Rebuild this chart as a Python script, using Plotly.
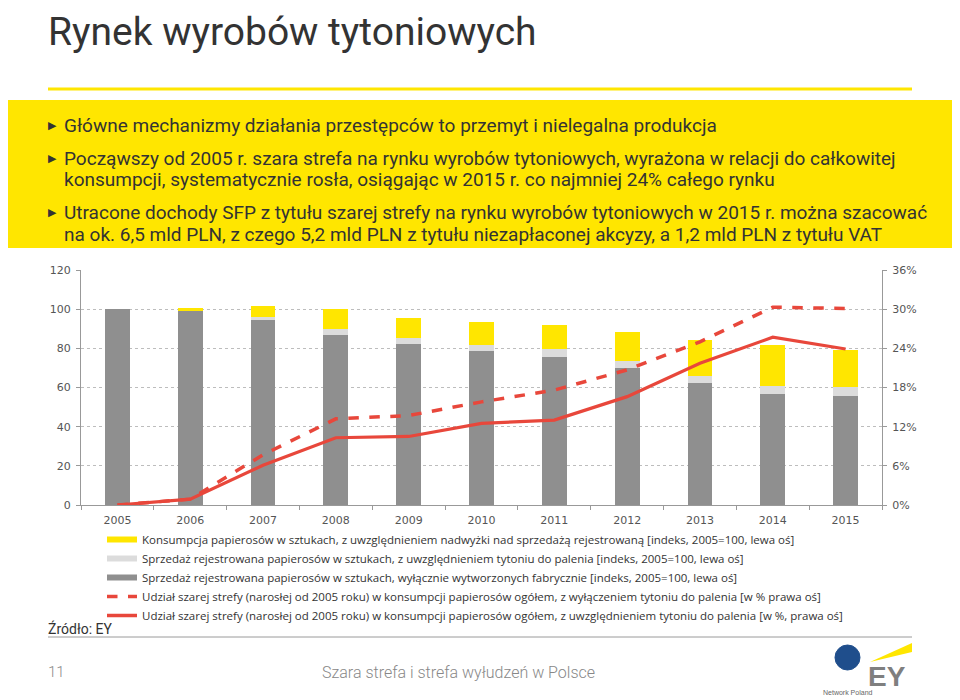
import plotly.graph_objects as go

# --- data ---
years = ["2005", "2006", "2007", "2008", "2009", "2010", "2011", "2012", "2013", "2014", "2015"]
sales_factory = [100, 99.2, 94.6, 87.0, 82.4, 78.8, 75.6, 70.0, 62.5, 56.9, 55.5]
sales_with_tobacco = [0, 0.3, 1.4, 3.0, 2.9, 3.1, 4.2, 3.4, 3.4, 3.7, 4.8]
consumption_surplus = [0, 0.9, 5.6, 10.3, 10.2, 11.7, 11.9, 14.8, 18.4, 21.1, 19.0]
grey_share_excl = [0, 0.9, 7.7, 13.2, 13.7, 15.8, 17.6, 20.7, 25.0, 30.3, 30.1]
grey_share_incl = [0, 0.9, 6.1, 10.3, 10.5, 12.5, 13.0, 16.6, 21.7, 25.7, 23.9]

legend_labels = [
    "Konsumpcja papierosów w sztukach, z uwzględnieniem nadwyżki nad sprzedażą rejestrowaną [indeks, 2005=100, lewa oś]",
    "Sprzedaż rejestrowana papierosów w sztukach, z uwzględnieniem tytoniu do palenia [indeks, 2005=100, lewa oś]",
    "Sprzedaż rejestrowana papierosów w sztukach, wyłącznie wytworzonych fabrycznie [indeks, 2005=100, lewa oś]",
    "Udział szarej strefy (narosłej od 2005 roku) w konsumpcji papierosów ogółem, z wyłączeniem tytoniu do palenia [w % prawa oś]",
    "Udział szarej strefy (narosłej od 2005 roku) w konsumpcji papierosów ogółem, z uwzględnieniem tytoniu do palenia [w %, prawa oś]",
]

title = "Rynek wyrobów tytoniowych"
bullets = [
    ["Główne mechanizmy działania przestępców to przemyt i nielegalna produkcja"],
    ["Począwszy od 2005 r. szara strefa na rynku wyrobów tytoniowych, wyrażona w relacji do całkowitej",
     "konsumpcji, systematycznie rosła, osiągając w 2015 r. co najmniej 24% całego rynku"],
    ["Utracone dochody SFP z tytułu szarej strefy na rynku wyrobów tytoniowych w 2015 r. można szacować",
     "na ok. 6,5 mld PLN, z czego 5,2 mld PLN z tytułu niezapłaconej akcyzy, a 1,2 mld PLN z tytułu VAT"],
]

YELLOW = "#FFE600"
LIGHT = "#DCDCDC"
GREY = "#8F8F8F"
RED = "#E8473B"
TEXT = "#333333"

# plot area in page pixels; the page body has an 8px margin, so the figure starts at (8, 8)
OFF = 8
L, R, T, B = 81, 882, 270, 505


def px(x):
    return (x - L) / (R - L)


def py(y):
    return (B - y) / (B - T)


fig = go.Figure()

for vals, col in [(sales_factory, GREY), (sales_with_tobacco, LIGHT), (consumption_surplus, YELLOW)]:
    fig.add_trace(go.Bar(x=years, y=vals, marker_color=col, marker_line_width=0,
                         width=0.34, showlegend=False, hoverinfo="skip"))

fig.add_trace(go.Scatter(x=years, y=grey_share_excl, yaxis="y2", mode="lines",
                         line=dict(color=RED, width=3.5, dash="dash"), showlegend=False))
fig.add_trace(go.Scatter(x=years, y=grey_share_incl, yaxis="y2", mode="lines",
                         line=dict(color=RED, width=3.2), showlegend=False))

# legend entries drawn as wide strokes
for i, (lab, col, dash) in enumerate(zip(legend_labels, [YELLOW, LIGHT, GREY, RED, RED],
                                         ["solid", "solid", "solid", "dash", "solid"])):
    w = 6 if col != RED else 3.5
    fig.add_trace(go.Scatter(x=[None], y=[None], mode="lines", name=lab, legendrank=i + 1,
                             line=dict(color=col, width=w, dash=dash)))

shapes = [
    dict(type="rect", xref="paper", yref="paper", x0=px(0), x1=px(960), y0=py(248), y1=py(100),
         fillcolor=YELLOW, line_width=0, layer="below"),
    dict(type="line", xref="paper", yref="paper", x0=px(48), x1=px(912), y0=py(89), y1=py(89),
         line=dict(color=YELLOW, width=3)),
    dict(type="line", xref="paper", yref="paper", x0=px(48), x1=px(912), y0=py(637), y1=py(637),
         line=dict(color="#9a9a9a", width=1)),
    # UN Global Compact globe (simplified)
    dict(type="circle", xref="paper", yref="paper", x0=px(835), x1=px(860), y0=py(670), y1=py(645),
         fillcolor="#1f4e8c", line=dict(color="#1f4e8c", width=1)),
    # EY yellow beam
    dict(type="path", xref="paper", yref="paper",
         path=f"M {px(870)} {py(662)} L {px(912)} {py(643)} L {px(912)} {py(652)} Z",
         fillcolor=YELLOW, line_width=0),
]

ann = [
    dict(x=px(46), y=py(OFF - 1), text=title, xanchor="left", yanchor="top", showarrow=False,
         xref="paper", yref="paper",
         font=dict(family="Roboto", size=39, color=TEXT)),
]

line_y = [125, 158, 180, 212, 234]
k = 0
for group in bullets:
    for j, txt in enumerate(group):
        if j == 0:
            ann.append(dict(x=px(46), y=py(line_y[k]), text="▶", xanchor="left", yanchor="middle",
                            showarrow=False, xref="paper", yref="paper",
                            font=dict(family="DejaVu Sans", size=11, color=TEXT)))
        ann.append(dict(x=px(62), y=py(line_y[k]), text=txt, xanchor="left", yanchor="middle",
                        showarrow=False, xref="paper", yref="paper",
                        font=dict(family="Roboto", size=19, color=TEXT)))
        k += 1

ann += [
    dict(x=px(46), y=py(628), text="Źródło: EY", xanchor="left", yanchor="middle", showarrow=False,
         xref="paper", yref="paper", font=dict(family="Roboto", size=14, color=TEXT)),
    dict(x=px(46), y=py(672), text="11", xanchor="left", yanchor="middle", showarrow=False,
         xref="paper", yref="paper", font=dict(family="Roboto", size=15, color="#888888", weight=300)),
    dict(x=px(320), y=py(672), text="Szara strefa i strefa wyłudzeń w Polsce", xanchor="left",
         yanchor="middle", showarrow=False, xref="paper", yref="paper",
         font=dict(family="Roboto", size=16, color="#888888", weight=300)),
    dict(x=px(848), y=py(692), text="Network Poland", xanchor="center", yanchor="middle", showarrow=False,
         xref="paper", yref="paper", font=dict(family="Liberation Sans", size=7, color="#666666")),
    dict(x=px(887), y=py(676), text="<b>EY</b>", xanchor="center", yanchor="middle", showarrow=False,
         xref="paper", yref="paper", font=dict(family="Liberation Sans", size=28, color="#7f7f7f")),
]

fig.update_layout(
    width=960 - OFF, height=700 - OFF,
    margin=dict(l=L - OFF, r=960 - R, t=T - OFF, b=700 - B, autoexpand=False),
    paper_bgcolor="white", plot_bgcolor="white",
    barmode="stack",
    shapes=shapes,
    annotations=ann,
    showlegend=True,
    legend=dict(x=px(102), y=py(525), xanchor="left", yanchor="top", traceorder="normal",
                font=dict(family="Open Sans", size=11.5, color=TEXT),
                tracegroupgap=0, itemwidth=30, bgcolor="rgba(0,0,0,0)"),
    xaxis=dict(type="category", range=[-0.5, 10.5], tickson="boundaries", ticks="outside",
               ticklen=4, tickcolor="#999999", showline=True, linecolor="#999999",
               ticklabelstandoff=5,
               tickfont=dict(family="DejaVu Sans", size=11, color="#555555"), showgrid=False),
    yaxis=dict(range=[0, 120], dtick=20, showgrid=True, griddash="dot", gridcolor="#bdbdbd",
               showline=True, linecolor="#999999", ticks="outside", ticklen=4, tickcolor="#999999",
               ticklabelstandoff=3,
               zeroline=False, tickfont=dict(family="DejaVu Sans", size=11, color="#555555")),
    yaxis2=dict(range=[0, 36], dtick=6, ticksuffix="%", overlaying="y", side="right",
                showgrid=False, showline=True, linecolor="#999999", ticks="outside", ticklen=4,
                tickcolor="#999999", zeroline=False, ticklabelstandoff=3,
                tickfont=dict(family="DejaVu Sans", size=11, color="#555555")),
)

fig.write_html("out.html")
